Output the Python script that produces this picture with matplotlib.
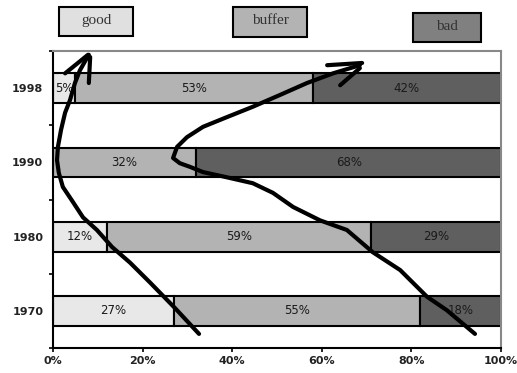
import matplotlib
matplotlib.use("Agg")
import matplotlib.pyplot as plt
from matplotlib.patches import Rectangle
import numpy as np

# Share of each condition class per survey year (percent)
years = ["1970", "1980", "1990", "1998"]
good = [27, 12, 0, 5]
buffer_ = [55, 59, 32, 53]
bad = [18, 29, 68, 42]
labels_good = ["27%", "12%", "", "5%"]
labels_buffer = ["55%", "59%", "32%", "53%"]
labels_bad = ["18%", "29%", "68%", "42%"]
x_ticks = [0, 20, 40, 60, 80, 100]
x_ticklabels = ["0%", "20%", "40%", "60%", "80%", "100%"]

series_names = ["good", "buffer", "bad"]
bar_colors = ["#e8e8e8", "#b3b3b3", "#5f5f5f"]
legend_colors = ["#e0e0e0", "#b3b3b3", "#808080"]

# Hand-drawn trend arrows (x in percent, y in category units)
trend_good_x = [32.6, 27.2, 21.7, 17.2, 13.2, 9.8, 6.7, 4.2, 2.2, 1.3, 0.9, 1.1,
                1.8, 2.7, 3.8, 4.9, 6.0, 7.6, 8.0]
trend_good_y = [-0.31, 0.04, 0.38, 0.65, 0.86, 1.09, 1.26, 1.49, 1.67, 1.86, 2.03,
                2.21, 2.44, 2.67, 2.84, 3.07, 3.24, 3.41, 3.45]
head_good_x = [2.7, 7.8, 8.3, 8.0]
head_good_y = [3.20, 3.45, 3.42, 3.07]

trend_bad_x = [94.2, 87.9, 83.5, 77.5, 71.4, 65.6, 59.6, 53.6, 49.1, 44.6, 38.8,
               33.5, 30.6, 28.3, 26.8, 27.7, 29.9, 33.5, 38.8, 44.6, 50.7, 56.7,
               62.5, 68.5]
trend_bad_y = [-0.31, 0.01, 0.19, 0.55, 0.79, 1.09, 1.22, 1.40, 1.59, 1.72, 1.80,
               1.87, 1.94, 1.99, 2.06, 2.21, 2.34, 2.48, 2.61, 2.75, 2.91, 3.07,
               3.20, 3.31]
head_bad_top_x = [61.2, 69.0]
head_bad_top_y = [3.31, 3.34]
head_bad_low_x = [64.1, 68.5]
head_bad_low_y = [3.04, 3.27]

fig = plt.figure(figsize=(5.17, 3.73), dpi=100)
ax = fig.add_axes([0.1025, 0.067, 0.8665, 0.796])

ypos = np.arange(len(years))
series = [good, buffer_, bad]
series_labels = [labels_good, labels_buffer, labels_bad]
left = np.zeros(len(years))
for vals, col, labs in zip(series, bar_colors, series_labels):
    vals = np.array(vals, dtype=float)
    ax.barh(ypos, vals, left=left, height=0.4, color=col,
            edgecolor="black", linewidth=1.5, zorder=2)
    for yi, (l, v, t) in enumerate(zip(left, vals, labs)):
        if t:
            ax.text(l + v / 2, yi, t, ha="center", va="center",
                    fontsize=8.5, color="#1a1a1a", zorder=3)
    left += vals

ax.set_xlim(0, 100)
ax.set_ylim(-0.5, len(years) - 0.5)

ax.set_xticks(x_ticks)
ax.set_xticklabels(x_ticklabels, fontsize=8, fontweight="bold", color="#222222")
ax.set_yticks(ypos)
ax.set_yticklabels(years, fontsize=8, fontweight="bold", color="#222222")
ax.set_yticks(np.arange(-0.5, len(years), 1.0), minor=True)
ax.tick_params(axis="y", which="major", length=0, pad=7)
ax.tick_params(axis="y", which="minor", length=3, width=1.2, direction="out")
ax.tick_params(axis="x", which="major", length=3, width=1.2, direction="out", pad=3)

for side in ("left", "bottom"):
    ax.spines[side].set_color("black")
    ax.spines[side].set_linewidth(1.5)
for side in ("top", "right"):
    ax.spines[side].set_color("#888888")
    ax.spines[side].set_linewidth(1.5)

# Trend arrows
stroke = dict(color="black", lw=3, solid_capstyle="round",
              solid_joinstyle="round", clip_on=False, zorder=5)
ax.plot(trend_good_x, trend_good_y, **stroke)
ax.plot(head_good_x[:2], head_good_y[:2], **stroke)
ax.plot(head_good_x[2:], head_good_y[2:], **stroke)
ax.plot(trend_bad_x, trend_bad_y, **stroke)
ax.plot(head_bad_top_x, head_bad_top_y, **stroke)
ax.plot(head_bad_low_x, head_bad_low_y, **stroke)

# Legend boxes along the top
W, H = 517.0, 373.0
boxes = [(59, 7, 74, 29), (233, 7, 74, 30), (413, 13, 68, 29)]
for (bx, by, bw, bh), name, col in zip(boxes, series_names, legend_colors):
    fig.patches.append(Rectangle((bx / W, 1 - (by + bh) / H), bw / W, bh / H,
                                 transform=fig.transFigure, facecolor=col,
                                 edgecolor="black", linewidth=1.5))
    fig.text((bx + bw / 2) / W, 1 - (by + bh / 2 - 1) / H, name,
             ha="center", va="center", fontsize=11,
             family="Liberation Serif", color="#333333")

fig.savefig("out.png", dpi=100)
